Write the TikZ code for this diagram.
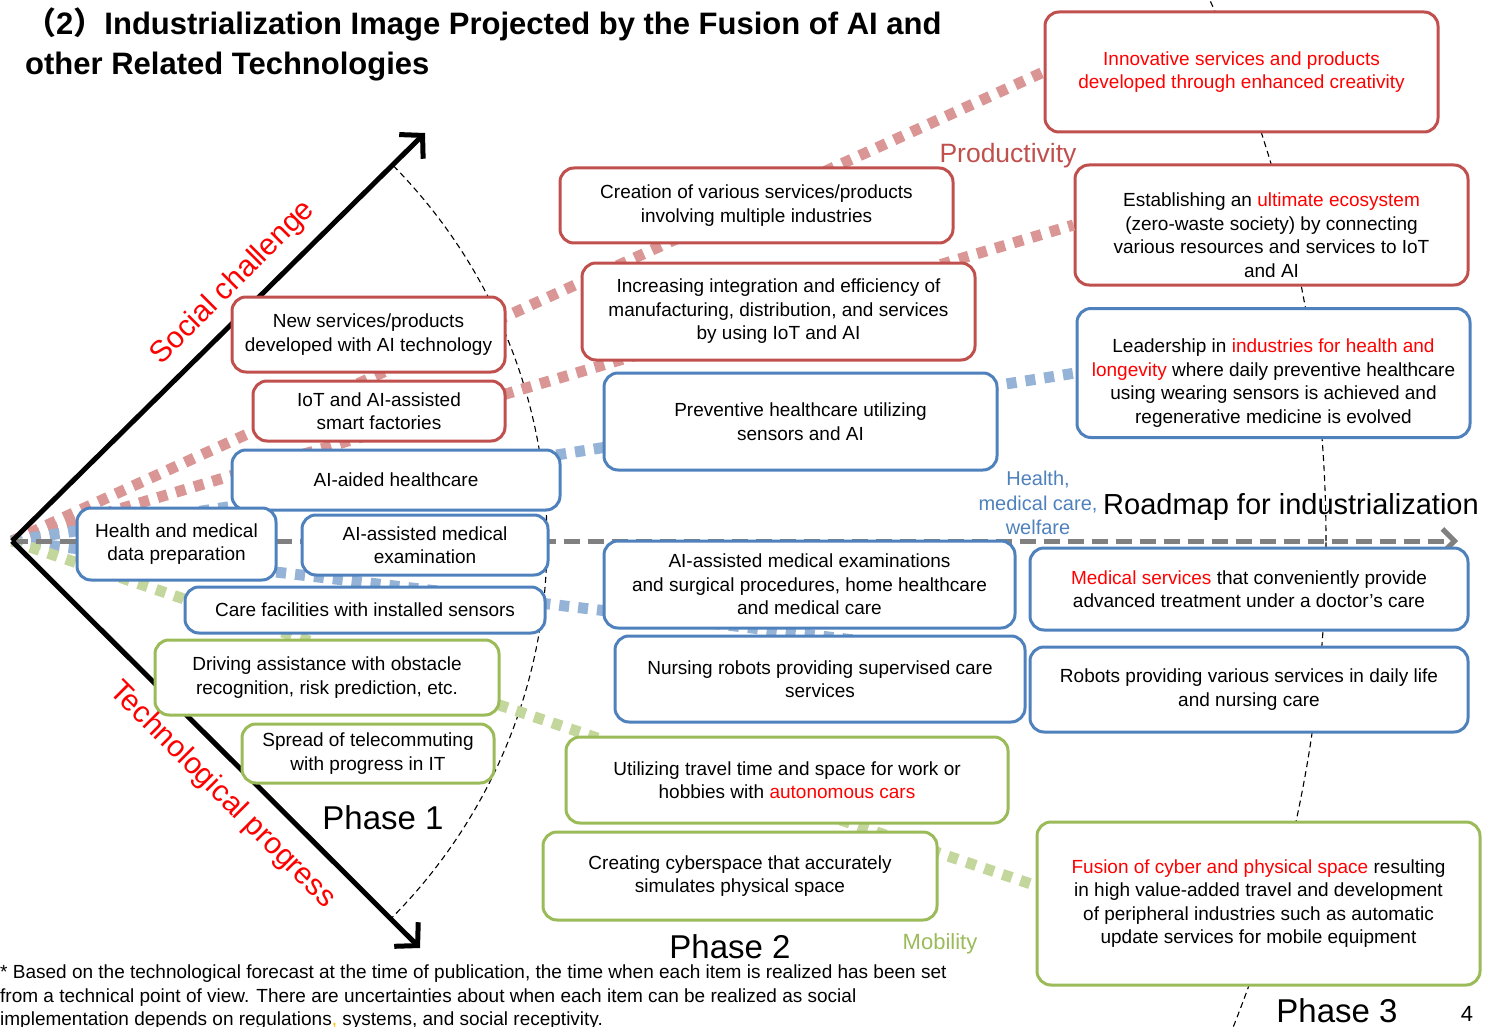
\documentclass[tikz,border=0pt]{standalone}
\usepackage{fontspec}
\setmainfont{Liberation Sans}
\newfontfamily\cjk{Noto Sans CJK SC}
\definecolor{BoxRed}{HTML}{C0504D}
\definecolor{BoxBlue}{HTML}{4F81BD}
\definecolor{BoxGreen}{HTML}{9BBB59}
\definecolor{FlowRed}{HTML}{D99694}
\definecolor{FlowBlue}{HTML}{95B3D7}
\definecolor{FlowGreen}{HTML}{C3D69B}
\definecolor{RoadGray}{HTML}{808080}
\definecolor{TxtRed}{HTML}{FF0000}
\definecolor{CommaGold}{HTML}{FFC000}
\usetikzlibrary{
  arrows.meta,
  calc
}
\newcommand{\hot}[1]{\textcolor{TxtRed}{#1}}

\begin{document}
\begin{tikzpicture}[
  x=1pt, y=-1pt,
  box/.style={
    rectangle, rounded corners=14pt,
    line width=3pt, fill=white,
    inner sep=0pt, align=center,
    font=\fontsize{19}{23.5}\selectfont
  },
  redbox/.style={box, draw=BoxRed},
  bluebox/.style={box, draw=BoxBlue},
  greenbox/.style={box, draw=BoxGreen},
  flow/.style={
    line width=11pt, dash pattern=on 10pt off 9pt
  },
  redflow/.style={flow, FlowRed},
  blueflow/.style={flow, FlowBlue},
  greenflow/.style={flow, FlowGreen},
  axisarr/.style={
    -{Straight Barb[length=16pt, width=34pt]}, line width=5pt
  },
  roadarr/.style={
    -{Straight Barb[length=12pt, width=24pt]}, line width=5pt,
    RoadGray, dash pattern=on 16pt off 8pt
  },
  phasearc/.style={
    line width=1.1pt, dash pattern=on 6pt off 4pt
  },
  phaselbl/.style={font=\fontsize{33}{36}\selectfont},
  axislbl/.style={font=\fontsize{30}{32}\selectfont, text=TxtRed}
]
  \useasboundingbox (0,0) rectangle (1494,1027);

  \coordinate (o) at (12,541);
  \coordinate (sctip) at (425,133);
  \coordinate (tptip) at (420,948);
  \coordinate (roadend) at (1458,541);

  % Title
  \node[anchor=north west, inner sep=0pt, align=left,
    font=\fontsize{31}{40}\selectfont\bfseries] (title) at (25,8)
    {{\cjk （}2{\cjk ）}Industrialization Image Projected by the Fusion of AI and\\
     other Related Technologies};

  % Phase boundaries
  \begin{scope}
    \clip (o) -- (1650,-1080) -- (1650,2180) -- cycle;
    \draw[phasearc] (o) circle[radius=535pt];
    \draw[phasearc] (o) circle[radius=1314pt];
  \end{scope}

  % Boxes (placed first so the flows can end on them)
  \node[redbox, minimum width=393pt, minimum height=120pt] (innov) at (1241.5,72)
    {\hot{Innovative services and products}\\
     \hot{developed through enhanced creativity}};
  \node[redbox, minimum width=393pt, minimum height=120pt] (ecosys) at (1271.5,225)
    {\rule{0pt}{34pt}Establishing an \hot{ultimate ecosystem}\\
     (zero-waste society) by connecting\\
     various resources and services to IoT\\
     and AI};
  \node[bluebox, minimum width=393pt, minimum height=129pt] (leader) at (1273.5,373)
    {\rule{0pt}{34pt}Leadership in \hot{industries for health and}\\
     \hot{longevity} where daily preventive healthcare\\
     using wearing sensors is achieved and\\
     regenerative medicine is evolved};
  \node[greenbox, minimum width=443pt, minimum height=163pt] (fusion) at (1258.5,903.5)
    {\hot{Fusion of cyber and physical space} resulting\\
     in high value-added travel and development\\
     of peripheral industries such as automatic\\
     update services for mobile equipment};
  \node[bluebox, minimum width=438pt, minimum height=85pt] (robots) at (1249,689.5)
    {Robots providing various services in daily life\\
     and nursing care};

  % Flows from the origin
  \draw[redflow] (o) -- (innov.west);
  \draw[redflow] (o) -- (ecosys.west);
  \draw[blueflow] (o) -- (leader.west);
  \draw[blueflow] (o) -- ([yshift=29pt]robots.west);
  \draw[greenflow] (o) -- ([yshift=18pt]fusion.west);

  % Roadmap arrow
  \draw[roadarr] (o) -- (roadend);

  % Axes
  \draw[axisarr] (o) -- (sctip);
  \draw[axisarr] (o) -- (tptip);

  \node[redbox, minimum width=393pt, minimum height=75pt] (multi) at (756.5,205.5)
    {Creation of various services/products\\
     involving multiple industries};
  \node[redbox, minimum width=393pt, minimum height=97pt] (integ) at (778.5,311.5)
    {Increasing integration and efficiency of\\
     manufacturing, distribution, and services\\
     by using IoT and AI};
  \node[redbox, minimum width=273pt, minimum height=75pt] (newsvc) at (368.5,334.5)
    {New services/products\\
     developed with AI technology};
  \node[redbox, minimum width=252pt, minimum height=60pt] (smartfac) at (379,411)
    {IoT and AI-assisted\\
     smart factories};

  \node[bluebox, minimum width=393pt, minimum height=97pt] (prevent) at (800.5,421.5)
    {Preventive healthcare utilizing\\
     sensors and AI};
  \node[bluebox, minimum width=328pt, minimum height=60pt] (aiaided) at (396,480)
    {AI-aided healthcare};
  \node[bluebox, minimum width=199pt, minimum height=72pt] (hdata) at (176.5,544)
    {Health and medical\\
     data preparation};
  \node[bluebox, minimum width=246pt, minimum height=60pt] (aiexam) at (425,545)
    {AI-assisted medical\\
     examination};
  \node[bluebox, minimum width=360pt, minimum height=46pt] (carefac) at (365,610)
    {Care facilities with installed sensors};
  \node[bluebox, minimum width=411pt, minimum height=87pt] (surgery) at (809.5,584.5)
    {AI-assisted medical examinations\\
     and surgical procedures, home healthcare\\
     and medical care};
  \node[bluebox, minimum width=438pt, minimum height=82pt] (medsvc) at (1249,589)
    {\hot{Medical services} that conveniently provide\\
     advanced treatment under a doctor’s care};
  \node[bluebox, minimum width=410pt, minimum height=86pt] (nursing) at (820,679)
    {Nursing robots providing supervised care\\
     services};

  \node[greenbox, minimum width=344pt, minimum height=75pt] (driving) at (327,677.5)
    {Driving assistance with obstacle\\
     recognition, risk prediction, etc.};
  \node[greenbox, minimum width=252pt, minimum height=59pt] (telecom) at (368,753.5)
    {Spread of telecommuting\\
     with progress in IT};
  \node[greenbox, minimum width=442pt, minimum height=86pt] (travel) at (787,780)
    {Utilizing travel time and space for work or\\
     hobbies with \hot{autonomous cars}};
  \node[greenbox, minimum width=394pt, minimum height=88pt] (cyber) at (740,876)
    {Creating cyberspace that accurately\\
     simulates physical space};

  % Axis and field labels
  \node[axislbl, rotate=45] (social) at (233,283) {Social challenge};
  \node[axislbl, rotate=-45] (techprog) at (222,795) {Technological progress};
  \node[text=BoxRed, font=\fontsize{26.5}{28}\selectfont] (prodlbl) at (1008,156)
    {Productivity};
  \node[text=BoxBlue, align=center, font=\fontsize{20}{24.5}\selectfont] (healthlbl)
    at (1038,503) {Health,\\medical care,\\welfare};
  \node[text=BoxGreen, font=\fontsize{22}{24}\selectfont] (moblbl) at (940,944)
    {Mobility};
  \node[font=\fontsize{29}{31}\selectfont] (roadlbl) at (1291,507)
    {Roadmap for industrialization};

  \node[phaselbl] (phase1) at (383,818) {Phase 1};
  \node[phaselbl] (phase2) at (730,947) {Phase 2};
  \node[phaselbl] (phase3) at (1337,1011) {Phase 3};
  \node[font=\fontsize{22}{24}\selectfont] (pageno) at (1467,1014) {4};

  % Footnote
  \node[anchor=north west, inner sep=0pt, align=left,
    font=\fontsize{19}{23.5}\selectfont] (note) at (0,965)
    {* Based on the technological forecast at the time of publication, the time when each item is realized has been set\\
     from a technical point of view. There are uncertainties about when each item can be realized as social\\
     implementation depends on regulations\textcolor{CommaGold}{,} systems, and social receptivity.};
\end{tikzpicture}
\end{document}
